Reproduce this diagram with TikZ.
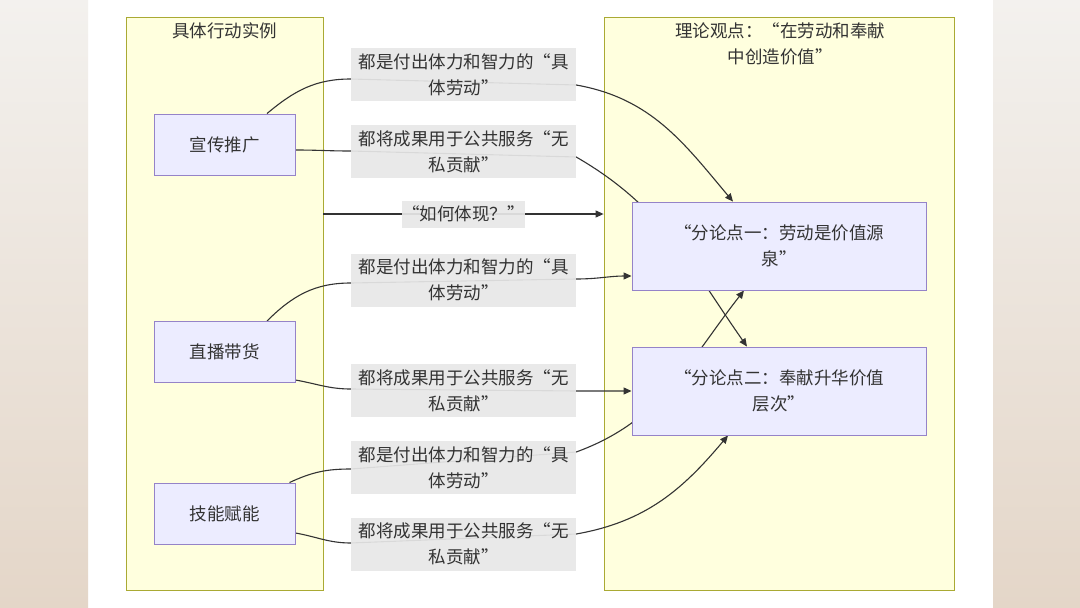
\documentclass[tikz,border=0pt]{standalone}
\usepackage{fontspec}
\setmainfont{Noto Sans CJK SC}
\usetikzlibrary{arrows.meta}
\definecolor{clusterfill}{HTML}{FFFFDE}
\definecolor{clusterline}{HTML}{AAAA33}
\definecolor{nodefill}{HTML}{ECECFF}
\definecolor{nodeline}{HTML}{9583C8}
\definecolor{labelgray}{HTML}{E8E8E8}
\definecolor{inkgray}{HTML}{333333}
\definecolor{sidetop}{HTML}{F3F1EE}
\definecolor{sidebottom}{HTML}{E4D6C8}
\pgfdeclarelayer{background}
\pgfdeclarelayer{edges}
\pgfsetlayers{background,edges,main}
\begin{document}
\begin{tikzpicture}[
    x=1pt, y=1pt,
    font=\fontsize{17.5}{26}\selectfont,
    every node/.style={text=inkgray},
    cluster/.style={rectangle, draw=clusterline, fill=clusterfill, line width=0.8pt, inner sep=0pt},
    entity/.style={rectangle, draw=nodeline, fill=nodefill, line width=0.9pt, minimum width=141pt, minimum height=61pt, align=center},
    claim/.style={entity, minimum width=294pt, minimum height=88pt},
    edgelabel/.style={fill=labelgray, fill opacity=0.92, text opacity=1, minimum width=225pt, minimum height=53pt, inner sep=0pt, align=center},
    arrow/.style={-{Triangle[length=8pt, width=7pt]}, line width=1.1pt, draw=inkgray}
]
    \useasboundingbox (0,0) rectangle (1080,-608);

    % Page and clusters
    \begin{pgfonlayer}{background}
    \fill[white] (0,0) rectangle (1080,-608);
    \shade[top color=sidetop, bottom color=sidebottom] (0,0) rectangle (88,-608);
    \shade[top color=sidetop, bottom color=sidebottom] (993,0) rectangle (1080,-608);
    \node[cluster, minimum width=197pt, minimum height=573pt] (acts) at (224.5,-303.5) {};
    \node[cluster, minimum width=350pt, minimum height=573pt] (theory) at (779,-303.5) {};
    \end{pgfonlayer}
    \node (actstitle) at (224.5,-31) {具体行动实例};
    \node[align=center] (theorytitle) at (780,-44) {理论观点：“在劳动和奉献\\中创造价值”};

    % Actions
    \node[entity] (promo) at (224.5,-144.5) {宣传推广};
    \node[entity] (live) at (224.5,-352) {直播带货};
    \node[entity] (skill) at (224.5,-513.5) {技能赋能};

    % Sub-points
    \node[claim] (labour) at (779,-246) {“分论点一：劳动是价值源\\泉”};
    \node[claim] (devote) at (779,-391) {“分论点二：奉献升华价值\\层次”};

    % Edge labels
    \node[edgelabel] (l1) at (463.5,-74.5) {都是付出体力和智力的“具\\体劳动”};
    \node[edgelabel] (l2) at (463.5,-151.5) {都将成果用于公共服务“无\\私贡献”};
    \node[edgelabel, minimum width=109pt, minimum height=27pt] (l3) at (463.5,-214) {“如何体现？”};
    \node[edgelabel] (l4) at (463.5,-280) {都是付出体力和智力的“具\\体劳动”};
    \node[edgelabel] (l5) at (463.5,-390.5) {都将成果用于公共服务“无\\私贡献”};
    \node[edgelabel] (l6) at (463.5,-467.5) {都是付出体力和智力的“具\\体劳动”};
    \node[edgelabel] (l7) at (463.5,-544) {都将成果用于公共服务“无\\私贡献”};

    % Connections
    \begin{pgfonlayer}{edges}
    \draw[arrow] (acts.east |- l3) -- (theory.west |- l3);

    \draw[arrow] ([xshift=42.5pt]promo.north) to[out=40, in=180] ([yshift=-4.5pt]l1.west)
        -- ([yshift=-10.5pt]l1.east) to[out=-10, in=130] ([xshift=-46pt]labour.north);
    \draw[arrow] ([yshift=-5.5pt]promo.east) to[out=0, in=180] ([yshift=0.5pt]l2.west)
        -- ([yshift=-5.5pt]l2.east) to[out=-30, in=125] ([xshift=-32pt]devote.north);

    \draw[arrow] ([xshift=42.5pt]live.north) to[out=45, in=180] ([yshift=-3pt]l4.west)
        -- ([yshift=1pt]l4.east) to[out=0, in=180] ([yshift=-30pt]labour.west);
    \draw[arrow] ([yshift=-28pt]live.east) to[out=-10, in=180] ([yshift=1.5pt]l5.west)
        -- ([yshift=-0.5pt]l5.east) -- (devote.west);

    \draw[arrow] ([xshift=65pt]skill.north) to[out=25, in=180] ([yshift=-1.5pt]l6.west)
        -- ([yshift=15.5pt]l6.east) to[out=20, in=-128] ([xshift=-35pt]labour.south);
    \draw[arrow] ([yshift=-19.5pt]skill.east) to[out=-10, in=180] ([yshift=1pt]l7.west)
        -- ([yshift=10pt]l7.east) to[out=10, in=-130] ([xshift=-51pt]devote.south);
    \end{pgfonlayer}
\end{tikzpicture}
\end{document}
